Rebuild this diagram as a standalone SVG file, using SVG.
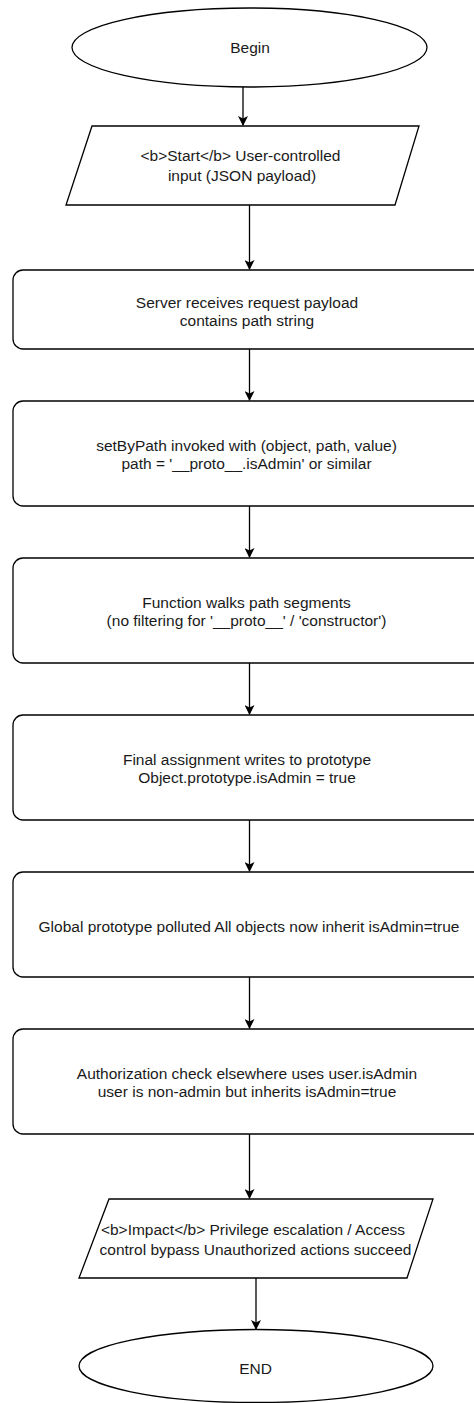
<svg xmlns="http://www.w3.org/2000/svg" width="474" height="1403" viewBox="0 0 474 1403">
<style>
.s{fill:#fff;stroke:#000;stroke-width:1.3}
.t{font-family:"Liberation Sans",Arial,sans-serif;font-size:15.5px;fill:#1a1a1a;text-anchor:middle}
.c{stroke:#000;stroke-width:1.3;fill:none}
</style>
<defs>
<marker id="a" markerWidth="10" markerHeight="10" refX="9" refY="5" orient="auto" markerUnits="userSpaceOnUse">
<path d="M0,0 L10,5 L0,10 L2.5,5 Z" fill="#000"/>
</marker>
</defs>
<rect width="474" height="1403" fill="#fff"/>
<g id="connectors">
<line class="c" x1="243" y1="87" x2="243" y2="125" marker-end="url(#a)"/>
<line class="c" x1="249.5" y1="205" x2="249.5" y2="269" marker-end="url(#a)"/>
<line class="c" x1="249.5" y1="349" x2="249.5" y2="400" marker-end="url(#a)"/>
<line class="c" x1="249.5" y1="506" x2="249.5" y2="557" marker-end="url(#a)"/>
<line class="c" x1="249.5" y1="663" x2="249.5" y2="714" marker-end="url(#a)"/>
<line class="c" x1="249.5" y1="820" x2="249.5" y2="871" marker-end="url(#a)"/>
<line class="c" x1="249.5" y1="977" x2="249.5" y2="1028" marker-end="url(#a)"/>
<line class="c" x1="249.5" y1="1134" x2="249.5" y2="1198" marker-end="url(#a)"/>
<line class="c" x1="256" y1="1278" x2="256" y2="1329" marker-end="url(#a)"/>
</g>
<g id="begin">
<ellipse class="s" cx="249.5" cy="47.5" rx="177.5" ry="39.5"/>
<text class="t" x="250" y="52.5">Begin</text>
</g>
<g id="start">
<polygon class="s" points="92,126 419,126 395,205 66,205"/>
<text class="t" x="240.5" y="160.5">&lt;b&gt;Start&lt;/b&gt; User-controlled</text>
<text class="t" x="242" y="180.5">input (JSON payload)</text>
</g>
<g id="server">
<rect class="s" x="13" y="270" width="472" height="79" rx="10"/>
<text class="t" x="247" y="307.5">Server receives request payload</text>
<text class="t" x="247" y="325.5">contains path string</text>
</g>
<g id="setbypath">
<rect class="s" x="13" y="401" width="472" height="105" rx="10"/>
<text class="t" x="246.5" y="450.5">setByPath invoked with (object, path, value)</text>
<text class="t" x="246.5" y="468.5">path = '__proto__.isAdmin' or similar</text>
</g>
<g id="walk">
<rect class="s" x="13" y="558" width="472" height="105" rx="10"/>
<text class="t" x="246.5" y="607.5">Function walks path segments</text>
<text class="t" x="246.5" y="626">(no filtering for '__proto__' / 'constructor')</text>
</g>
<g id="assign">
<rect class="s" x="13" y="715" width="472" height="105" rx="10"/>
<text class="t" x="247" y="764.5">Final assignment writes to prototype</text>
<text class="t" x="247" y="782.5">Object.prototype.isAdmin = true</text>
</g>
<g id="polluted">
<rect class="s" x="13" y="872" width="472" height="105" rx="10"/>
<text class="t" x="249" y="931.5">Global prototype polluted All objects now inherit isAdmin=true</text>
</g>
<g id="authcheck">
<rect class="s" x="13" y="1029" width="472" height="105" rx="10"/>
<text class="t" x="247" y="1078.5">Authorization check elsewhere uses user.isAdmin</text>
<text class="t" x="247" y="1097">user is non-admin but inherits isAdmin=true</text>
</g>
<g id="impact">
<polygon class="s" points="109,1199 433,1199 407,1278 79,1278"/>
<text class="t" x="253" y="1234.5">&lt;b&gt;Impact&lt;/b&gt; Privilege escalation / Access</text>
<text class="t" x="255.5" y="1254.5">control bypass Unauthorized actions succeed</text>
</g>
<g id="end">
<ellipse class="s" cx="256" cy="1366" rx="177" ry="36.5"/>
<text class="t" x="255.5" y="1374">END</text>
</g>
</svg>
